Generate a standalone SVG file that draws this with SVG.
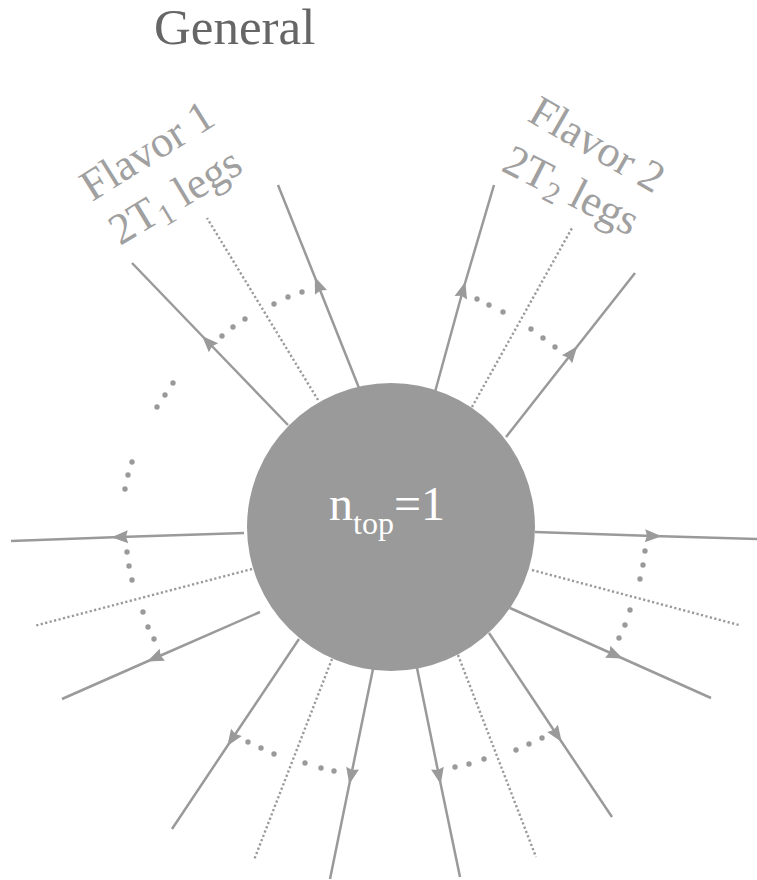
<svg xmlns="http://www.w3.org/2000/svg" width="757" height="880" viewBox="0 0 757 880">
  <style>
    .leg { fill: none; stroke: #9a9a9a; stroke-width: 2.5; marker-mid: url(#arr); }
    .ghost { fill: none; stroke: #9a9a9a; stroke-width: 2.4; stroke-dasharray: 2.2 2.4; }
    .dot { fill: #9a9a9a; }
    .lbl { font-family: "Liberation Serif", "DejaVu Serif", serif; fill: #a0a0a0; font-size: 44px; }
    .title { font-family: "Liberation Serif", "DejaVu Serif", serif; fill: #666666; font-size: 51px; }
    .core { font-family: "Liberation Serif", "DejaVu Serif", serif; fill: #ffffff; font-size: 48px; }
  </style>
  <defs>
    <marker id="arr" markerUnits="userSpaceOnUse" markerWidth="18" markerHeight="16" viewBox="-9 -8 18 16" refX="0" refY="0" orient="auto">
      <path d="M-8,-6.5 L8.5,0 L-8,6.5 L-6,0 Z" fill="#9a9a9a"/>
    </marker>
  </defs>

  <text class="title" x="154" y="44">General</text>

  <g id="connectors">
    <!-- solid legs: blob edge -> arrow -> outer end -->
    <path class="leg" d="M288,425 L208,342 L132,263"/>
    <path class="leg" d="M359,388 L318,285 L278,185"/>
    <path class="leg" d="M435,392 L463,290 L494,185"/>
    <path class="leg" d="M506,437 L572,353 L635,273"/>
    <path class="leg" d="M244,533 L120,537 L11,541"/>
    <path class="leg" d="M260,612 L155,658 L62,699"/>
    <path class="leg" d="M535,532 L653,536 L757,539"/>
    <path class="leg" d="M510,608 L615,655 L711,698"/>
    <path class="leg" d="M299,639 L232,739 L172,829"/>
    <path class="leg" d="M373,669 L351,776 L330,879"/>
    <path class="leg" d="M417,668 L439,776 L460,877"/>
    <path class="leg" d="M489,633 L557,735 L612,817"/>

    <!-- dotted legs -->
    <path class="ghost" d="M318,400 L207,218"/>
    <path class="ghost" d="M472,407 L572,228"/>
    <path class="ghost" d="M252,569 L34,626"/>
    <path class="ghost" d="M532,570 L739,625"/>
    <path class="ghost" d="M332,659 L254,860"/>
    <path class="ghost" d="M458,655 L536,857"/>

    <!-- ellipsis arcs between legs -->
    <g class="dot">
      <circle cx="222" cy="336" r="2.7"/><circle cx="233" cy="327" r="2.7"/><circle cx="245" cy="319" r="2.7"/>
      <circle cx="274" cy="304" r="2.7"/><circle cx="288" cy="297" r="2.7"/><circle cx="302" cy="292" r="2.7"/>

      <circle cx="477" cy="299" r="2.7"/><circle cx="489" cy="305" r="2.7"/><circle cx="503" cy="312" r="2.7"/>
      <circle cx="531" cy="329" r="2.7"/><circle cx="543" cy="338" r="2.7"/><circle cx="555" cy="347" r="2.7"/>

      <circle cx="173" cy="383" r="2.7"/><circle cx="165" cy="395" r="2.7"/><circle cx="157" cy="407" r="2.7"/>
      <circle cx="132" cy="462" r="2.7"/><circle cx="128" cy="475" r="2.7"/><circle cx="125" cy="489" r="2.7"/>
      <circle cx="127" cy="552" r="2.7"/><circle cx="129" cy="566" r="2.7"/><circle cx="132" cy="580" r="2.7"/>
      <circle cx="143" cy="612" r="2.7"/><circle cx="148" cy="627" r="2.7"/><circle cx="154" cy="639" r="2.7"/>

      <circle cx="645" cy="551" r="2.7"/><circle cx="643" cy="565" r="2.7"/><circle cx="640" cy="579" r="2.7"/>
      <circle cx="630" cy="610" r="2.7"/><circle cx="625" cy="625" r="2.7"/><circle cx="619" cy="638" r="2.7"/>

      <circle cx="248" cy="742" r="2.7"/><circle cx="261" cy="748" r="2.7"/><circle cx="274" cy="754" r="2.7"/>
      <circle cx="305" cy="763" r="2.7"/><circle cx="321" cy="768" r="2.7"/><circle cx="334" cy="771" r="2.7"/>

      <circle cx="455" cy="767" r="2.7"/><circle cx="469" cy="764" r="2.7"/><circle cx="484" cy="759" r="2.7"/>
      <circle cx="516" cy="750" r="2.7"/><circle cx="529" cy="744" r="2.7"/><circle cx="542" cy="738" r="2.7"/>
    </g>
  </g>

  <g id="blob">
    <circle cx="391" cy="527" r="144" fill="#9a9a9a"/>
    <text class="core" x="329" y="520">n<tspan font-size="32" dy="14">top</tspan><tspan dy="-14">=1</tspan></text>
  </g>

  <g id="flavor1-label">
    <text class="lbl" transform="translate(92,202) rotate(-32)">Flavor 1</text>
    <text class="lbl" transform="translate(120,246) rotate(-31)">2T<tspan font-size="30" dy="7">1</tspan><tspan dy="-7"> legs</tspan></text>
  </g>

  <g id="flavor2-label">
    <text class="lbl" transform="translate(526,120) rotate(30)">Flavor 2</text>
    <text class="lbl" transform="translate(500,170) rotate(27)">2T<tspan font-size="30" dy="7">2</tspan><tspan dy="-7"> legs</tspan></text>
  </g>
</svg>
